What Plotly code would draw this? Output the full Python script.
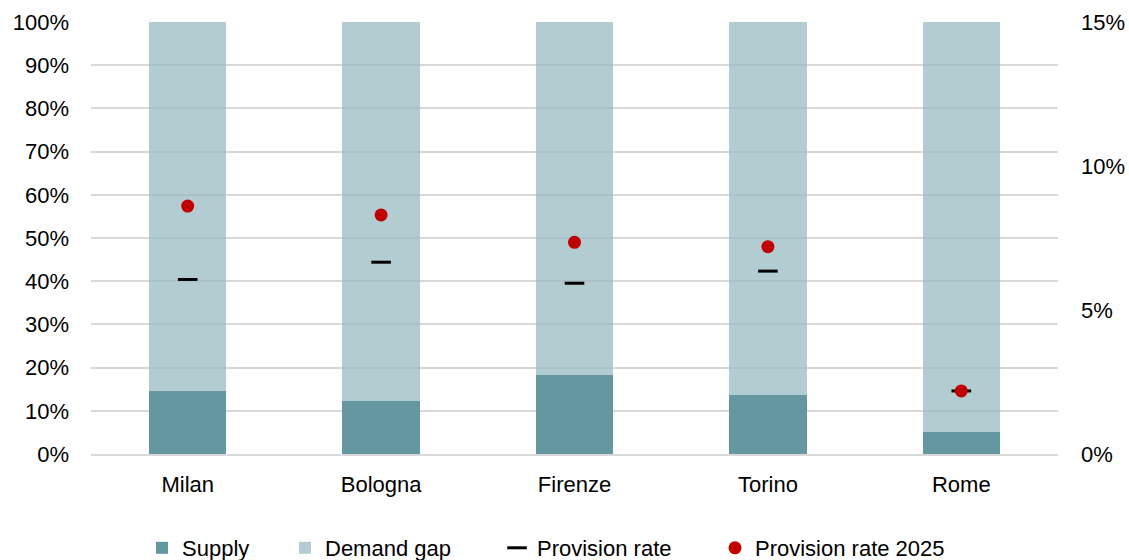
import plotly.graph_objects as go

cities = ["Milan", "Bologna", "Firenze", "Torino", "Rome"]
supply = [0.146, 0.122, 0.183, 0.137, 0.050]
demand_gap = [1 - s for s in supply]
provision_rate = [0.0606, 0.0666, 0.0593, 0.0635, 0.0219]
provision_rate_2025 = [0.0861, 0.0830, 0.0735, 0.0720, 0.0219]

FONT = "Liberation Sans, Arial, sans-serif"
FS = 22

fig = go.Figure()
fig.add_trace(go.Bar(x=cities, y=supply, name="Supply",
                     marker=dict(color="#6497A0", line=dict(width=0)),
                     legend="legend"))
fig.add_trace(go.Bar(x=cities, y=demand_gap, name="Demand gap",
                     marker=dict(color="rgba(152,187,194,0.75)", line=dict(width=0)),
                     legend="legend2"))
fig.add_trace(go.Scatter(x=cities, y=provision_rate, name="Provision rate", mode="markers",
                         yaxis="y2",
                         marker=dict(symbol="line-ew", size=14, color="black",
                                     line=dict(width=3, color="black")),
                         legend="legend3"))
fig.add_trace(go.Scatter(x=cities, y=provision_rate_2025, name="Provision rate 2025", mode="markers",
                         yaxis="y2",
                         marker=dict(symbol="circle", size=13, color="#C00000"),
                         legend="legend4"))

def lx(px):
    return px / 1129

leg_common = dict(orientation="h", yref="container", yanchor="middle", y=1 - 548 / 560,
                  xref="container", xanchor="left",
                  font=dict(family=FONT, size=FS, color="black"),
                  bgcolor="rgba(0,0,0,0)", borderwidth=0, itemwidth=30)

fig.update_layout(
    width=1129, height=560,
    margin=dict(l=91, r=71, t=22, b=106),
    paper_bgcolor="white", plot_bgcolor="white",
    barmode="stack", bargap=0.6,
    showlegend=True,
    font=dict(family=FONT, size=FS, color="black"),
    xaxis=dict(showgrid=False, showline=True, linecolor="#D9D9D9", linewidth=2,
               ticks="", ticklabelstandoff=10, automargin=False,
               tickfont=dict(size=FS, color="black")),
    yaxis=dict(range=[0, 1], dtick=0.1, tickformat=".0%", showgrid=True,
               gridcolor="#D9D9D9", gridwidth=2, zeroline=False, ticks="",
               ticklabelstandoff=21, automargin=False,
               tickfont=dict(size=FS, color="black")),
    yaxis2=dict(range=[0, 0.15], dtick=0.05, tickformat=".0%", overlaying="y", side="right",
                showgrid=False, zeroline=False, ticks="", ticklabelstandoff=22,
                automargin=False, tickfont=dict(size=FS, color="black")),
    legend=dict(x=lx(142), **leg_common),
    legend2=dict(x=lx(285), **leg_common),
    legend3=dict(x=lx(497), **leg_common),
    legend4=dict(x=lx(715), **leg_common),
)

fig.write_html("out.html")
